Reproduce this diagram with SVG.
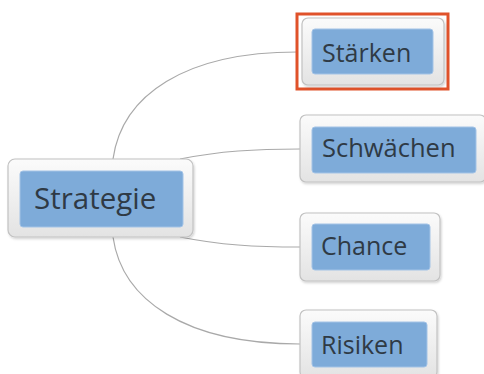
<svg xmlns="http://www.w3.org/2000/svg" width="484" height="374" viewBox="0 0 484 374">
<defs>
<linearGradient id="gOuter" x1="0" y1="0" x2="0" y2="1">
<stop offset="0" stop-color="#fbfbfb"/>
<stop offset="1" stop-color="#e3e3e3"/>
</linearGradient>
<filter id="sh" x="-10%" y="-10%" width="130%" height="130%">
<feDropShadow dx="1" dy="1.5" stdDeviation="1.2" flood-color="#000" flood-opacity="0.18"/>
</filter>
</defs>
<style>
.outer{fill:url(#gOuter);stroke:#c2c2c2;stroke-width:1.2;filter:url(#sh)}
.inner{fill:#7eabd9;stroke:#a3c3e6;stroke-width:1}
.lbl{font-family:"Open Sans","Noto Sans",sans-serif;fill:#2f3a45;font-size:25px}
.conn path{fill:none;stroke:#a9a9a9;stroke-width:1.2}
</style>
<rect width="484" height="374" fill="#ffffff"/>
<g id="connectors" class="conn">
<path d="M113,159 C122,95 185,52 297,52"/>
<path d="M180,159 C220,151 255,149 300,149"/>
<path d="M180,237 C220,245 255,247 300,247"/>
<path d="M113,237 C122,300 185,344 300,344"/>
</g>
<g id="strategie">
<rect class="outer" x="8" y="159" width="185" height="78" rx="7"/>
<rect class="inner" x="20" y="171" width="163" height="56" rx="3"/>
<text class="lbl" x="34" y="209" style="font-size:29.5px">Strategie</text>
</g>
<g id="staerken">
<rect x="297" y="14" width="151" height="75" fill="none" stroke="#e0522a" stroke-width="3"/>
<rect class="outer" x="302" y="18" width="142" height="67" rx="6"/>
<rect class="inner" x="312" y="29" width="121" height="45" rx="3"/>
<text class="lbl" x="322" y="62">Stärken</text>
</g>
<g id="schwaechen">
<rect class="outer" x="300" y="115" width="186" height="67" rx="6"/>
<rect class="inner" x="312" y="127" width="164" height="46" rx="3"/>
<text class="lbl" x="322" y="157" style="font-size:25.5px">Schwächen</text>
</g>
<g id="chance">
<rect class="outer" x="300" y="213" width="140" height="68" rx="6"/>
<rect class="inner" x="312" y="224" width="118" height="46" rx="3"/>
<text class="lbl" x="321" y="255">Chance</text>
</g>
<g id="risiken">
<rect class="outer" x="300" y="310" width="137" height="68" rx="6"/>
<rect class="inner" x="312" y="322" width="115" height="45" rx="3"/>
<text class="lbl" x="321" y="354">Risiken</text>
</g>
</svg>
